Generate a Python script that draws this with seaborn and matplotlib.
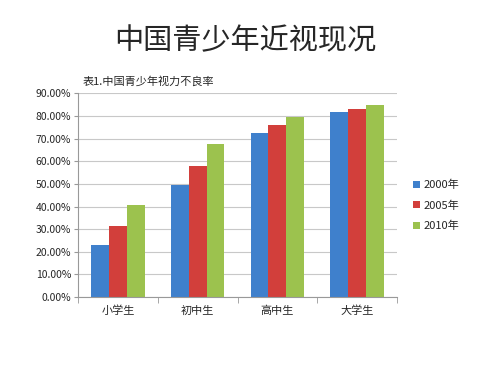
import pandas as pd
import numpy as np
import seaborn as sns
import matplotlib.pyplot as plt
from matplotlib.ticker import PercentFormatter, FixedLocator

# Dados
categorias = ['小学生', '初中生', '高中生', '大学生']
anos = ['2000年', '2005年', '2010年']
v2000 = [23.1, 49.4, 72.6, 81.8]
v2005 = [31.6, 58.1, 76.0, 82.9]
v2010 = [40.9, 67.5, 79.4, 85.0]
cores = ['#3F80CC', '#D23F3B', '#9CC24E']

df = pd.DataFrame({
    'grupo': categorias * 3,
    'ano': [a for a in anos for _ in categorias],
    'valor': v2000 + v2005 + v2010,
})

sns.set_style('white')
plt.rcParams['font.family'] = ['Noto Sans CJK SC', 'DejaVu Sans']

fig = plt.figure(figsize=(5, 3.78), dpi=100)
ax = fig.add_axes([0.156, 0.214, 0.638, 0.539])

sns.barplot(data=df, x='grupo', y='valor', hue='ano', palette=cores,
            width=0.67, gap=0, ax=ax, saturation=1, legend=True,
            linewidth=0, edgecolor='none')

ax.set_ylim(0, 90)
ax.set_yticks(np.arange(0, 91, 10))
ax.yaxis.set_major_formatter(PercentFormatter(xmax=100, decimals=2))
ax.grid(axis='y', color='#c8c8c8', linewidth=0.8)
ax.set_axisbelow(True)
ax.set_xlabel('')
ax.set_ylabel('')
ax.tick_params(axis='y', labelsize=7.5, length=3, color='#999999', left=True, pad=2)
ax.tick_params(axis='x', labelsize=8, length=0, pad=6)
ax.xaxis.set_minor_locator(FixedLocator([-0.5, 0.5, 1.5, 2.5, 3.5]))
ax.tick_params(axis='x', which='minor', length=4, color='#999999', bottom=True)
ax.set_xlim(-0.5, 3.5)
for s in ['top', 'right']:
    ax.spines[s].set_visible(False)
for s in ['left', 'bottom']:
    ax.spines[s].set_color('#999999')
    ax.spines[s].set_linewidth(0.8)

ax.legend(loc='center left', bbox_to_anchor=(1.02, 0.45), frameon=False,
          fontsize=8, handlelength=0.6, handleheight=0.6, handletextpad=0.3,
          labelspacing=0.9)

fig.text(0.49, 0.89, '中国青少年近视现况', ha='center', va='center',
         fontsize=21, fontweight='light')
fig.text(0.165, 0.785, '表1.中国青少年视力不良率', ha='left', va='center', fontsize=8)

fig.savefig('out.png', dpi=100)
